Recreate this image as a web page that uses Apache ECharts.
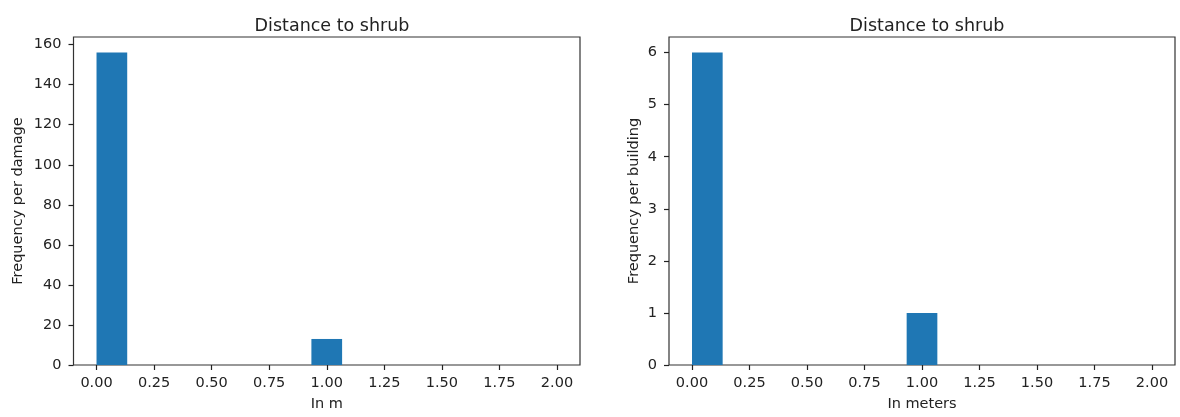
<!DOCTYPE html>
<html>
<head>
<meta charset="utf-8">
<script src="https://cdn.jsdelivr.net/npm/echarts@6/dist/echarts.min.js"></script>
<style>
html,body{margin:0;padding:0;background:#fff;}
#chart{width:1180px;height:417px;}
</style>
</head>
<body>
<div id="chart"></div>
<script>
// Histogram bin edges (15 bins from 0 to 2)
const binEdges = [0, 0.1333, 0.2667, 0.4, 0.5333, 0.6667, 0.8, 0.9333, 1.0667, 1.2, 1.3333, 1.4667, 1.6, 1.7333, 1.8667, 2.0];
// Counts per bin
const countsDamage = [156, 0, 0, 0, 0, 0, 0, 13, 0, 0, 0, 0, 0, 0, 0];
const countsBuilding = [6, 0, 0, 0, 0, 0, 0, 1, 0, 0, 0, 0, 0, 0, 0];
// Tick labels
const xTicks = [0, 0.25, 0.5, 0.75, 1.0, 1.25, 1.5, 1.75, 2.0];
const yTicksDamage = [0, 20, 40, 60, 80, 100, 120, 140, 160];
const yTicksBuilding = [0, 1, 2, 3, 4, 5, 6];
const titles = ['Distance to shrub', 'Distance to shrub'];
const xNames = ['In m', 'In meters'];
const yNames = ['Frequency per damage', 'Frequency per building'];

function rows(counts) {
  return counts.map((c, i) => [binEdges[i], binEdges[i + 1], c]);
}

const FONT = 'DejaVu Sans';
const TXT = '#222';
const FS = 14.5;

function renderBar(params, api) {
  const x0 = api.value(0), x1 = api.value(1), v = api.value(2);
  if (!v) return null;
  const p0 = api.coord([x0, 0]);
  const p1 = api.coord([x1, v]);
  return {
    type: 'rect',
    shape: { x: p0[0], y: p1[1], width: p1[0] - p0[0], height: p0[1] - p1[1] },
    style: { fill: '#1f77b4' }
  };
}

function xAxis(idx) {
  return {
    type: 'value', gridIndex: idx, min: -0.1, max: 2.1,
    name: xNames[idx], nameLocation: 'middle', nameGap: 32,
    nameTextStyle: { fontFamily: FONT, fontSize: FS, color: TXT },
    axisLine: { show: false, onZero: false },
    axisTick: { show: true, length: 5, customValues: xTicks, lineStyle: { color: '#222', width: 1.2 } },
    axisLabel: { customValues: xTicks, margin: 11, fontFamily: FONT, fontSize: FS, color: TXT,
      formatter: v => Number(v).toFixed(2) },
    splitLine: { show: false }
  };
}

function yAxis(idx, max, ticks, gap) {
  return {
    type: 'value', gridIndex: idx, min: 0, max: max,
    name: yNames[idx], nameLocation: 'middle', nameGap: gap,
    nameTextStyle: { fontFamily: FONT, fontSize: FS, color: TXT },
    axisLine: { show: false, onZero: false },
    axisTick: { show: true, length: 5, customValues: ticks, lineStyle: { color: '#222', width: 1.2 } },
    axisLabel: { customValues: ticks, margin: 12, fontFamily: FONT, fontSize: FS, color: TXT },
    splitLine: { show: false }
  };
}

const chart = echarts.init(document.getElementById('chart'), null, { renderer: 'canvas' });
chart.setOption({
  animation: false,
  backgroundColor: '#fff',
  title: [
    { text: titles[0], left: 327, top: 12, textAlign: 'center',
      textStyle: { fontFamily: FONT, fontSize: 17.5, fontWeight: 'normal', color: TXT } },
    { text: titles[1], left: 922, top: 12, textAlign: 'center',
      textStyle: { fontFamily: FONT, fontSize: 17.5, fontWeight: 'normal', color: TXT } }
  ],
  grid: [
    { left: 73.5, top: 37, width: 506.5, height: 330, show: true, borderColor: '#333', borderWidth: 1.2, backgroundColor: 'transparent' },
    { left: 669, top: 37, width: 506, height: 330, show: true, borderColor: '#333', borderWidth: 1.2, backgroundColor: 'transparent' }
  ],
  xAxis: [xAxis(0), xAxis(1)],
  yAxis: [yAxis(0, 163.8, yTicksDamage, 48), yAxis(1, 6.3, yTicksBuilding, 27)],
  series: [
    { type: 'custom', xAxisIndex: 0, yAxisIndex: 0, renderItem: renderBar,
      encode: { x: [0, 1], y: 2 }, data: rows(countsDamage) },
    { type: 'custom', xAxisIndex: 1, yAxisIndex: 1, renderItem: renderBar,
      encode: { x: [0, 1], y: 2 }, data: rows(countsBuilding) }
  ]
});
</script>
</body>
</html>
